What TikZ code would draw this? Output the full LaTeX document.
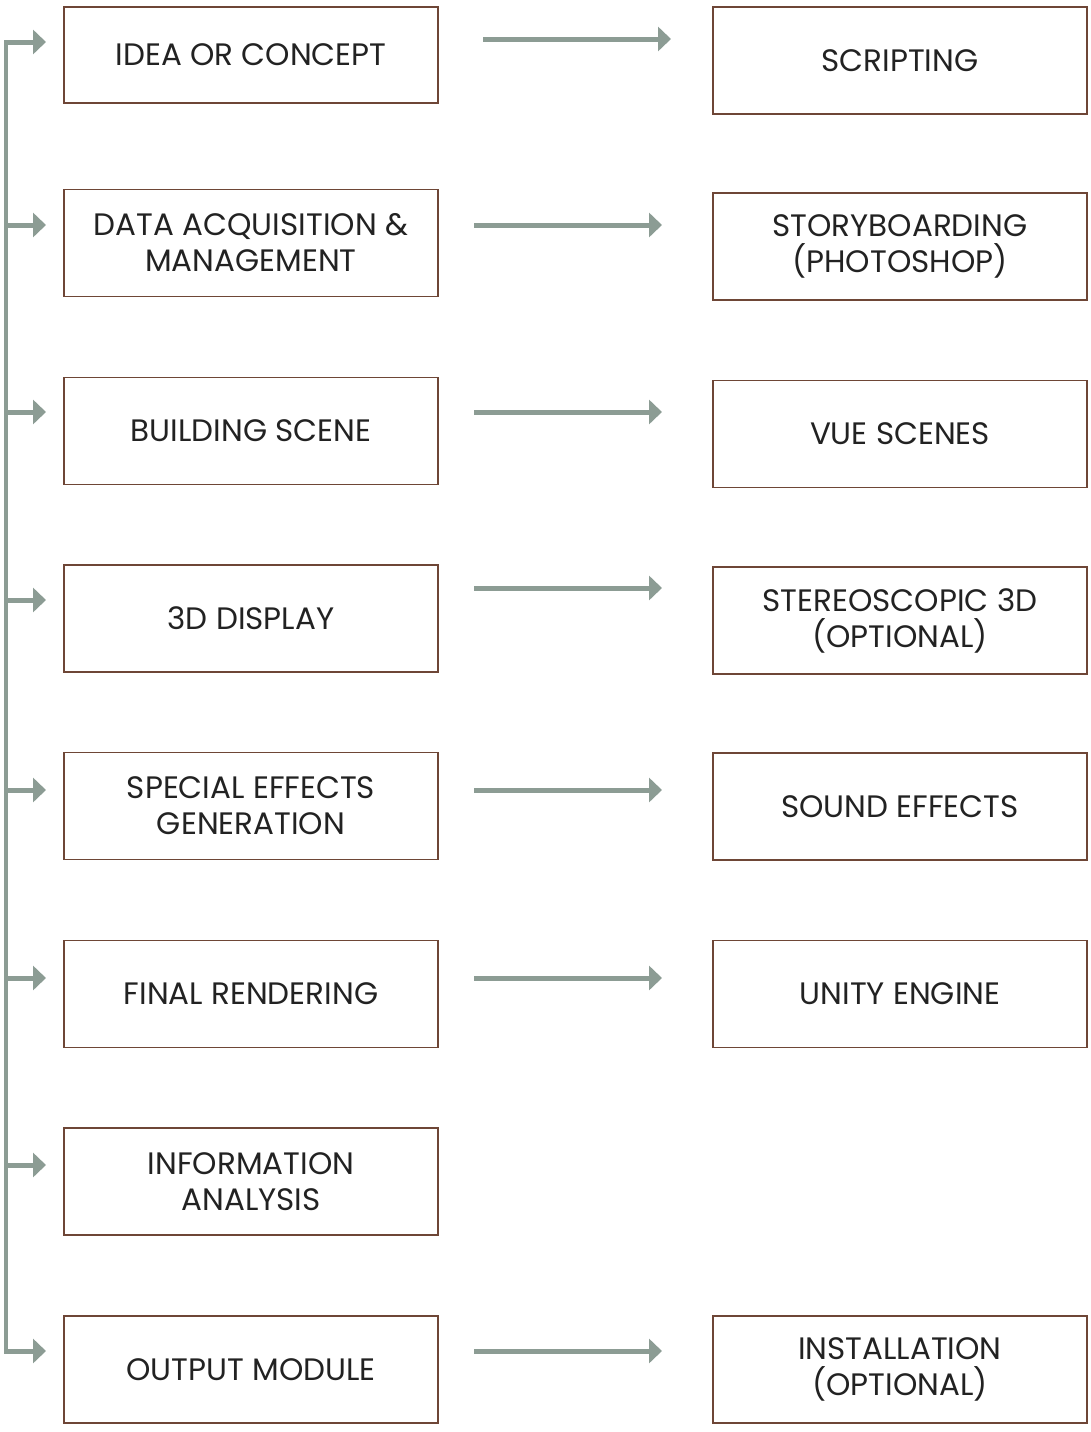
\documentclass[tikz,border=0pt]{standalone}
\usepackage{fontspec}
\setmainfont{Poppins}
\usepackage{tikz}
\definecolor{boxline}{HTML}{6E4636}
\definecolor{arrowgray}{HTML}{8C9C94}
\definecolor{textgray}{HTML}{222222}
\tikzset{
  stagebox/.style={draw=boxline,line width=1.5pt,minimum width=374pt,minimum height=107pt,
    inner sep=0pt,align=center,text=textgray,font=\fontsize{31}{36}\selectfont},
  flowarrow/.style={draw=arrowgray,line width=5pt,-{Triangle[length=13pt,width=24pt]}},
  spine/.style={draw=arrowgray,line width=4pt}
}
\usetikzlibrary{arrows.meta}
\begin{document}
\begin{tikzpicture}[x=1pt,y=-1pt]
\useasboundingbox[fill=white] (0,0) rectangle (1091,1432);
% left column
\node[stagebox,minimum height=96pt] (idea) at (251,55) {IDEA OR CONCEPT};
\node[stagebox] (data) at (251,243) {DATA ACQUISITION \&\\MANAGEMENT};
\node[stagebox] (build) at (251,431) {BUILDING SCENE};
\node[stagebox] (disp) at (251,618.5) {3D DISPLAY};
\node[stagebox] (sfx) at (251,806) {SPECIAL EFFECTS\\GENERATION};
\node[stagebox] (render) at (251,994) {FINAL RENDERING};
\node[stagebox] (info) at (251,1181.5) {INFORMATION\\ANALYSIS};
\node[stagebox] (output) at (251,1369.5) {OUTPUT MODULE};
% right column
\node[stagebox] (script) at (900,60.5) {SCRIPTING};
\node[stagebox] (story) at (900,246.5) {STORYBOARDING\\(PHOTOSHOP)};
\node[stagebox] (vue) at (900,434) {VUE SCENES};
\node[stagebox] (stereo) at (900,620.5) {STEREOSCOPIC 3D\\(OPTIONAL)};
\node[stagebox] (sound) at (900,806.5) {SOUND EFFECTS};
\node[stagebox] (unity) at (900,994) {UNITY ENGINE};
\node[stagebox] (install) at (900,1369.5) {INSTALLATION\\(OPTIONAL)};
% spine on the left
\coordinate (top) at (6,42);
\coordinate (bot) at (6,1351);
\draw[spine] ([yshift=-2pt]top) -- ([yshift=2pt]bot);
\foreach \y in {42,225,412,600,790,978,1165,1351}
  \draw[flowarrow] (4,\y) -- (46,\y);
% arrows between the columns
\coordinate (a1) at (483,39); \coordinate (b1) at (671,39);
\draw[flowarrow] (a1) -- (b1);
\foreach \y/\n in {225/2,412/3,588/4,790/5,978/6,1351/8}{
  \coordinate (a\n) at (474,\y); \coordinate (b\n) at (662,\y);
  \draw[flowarrow] (a\n) -- (b\n);
}
\end{tikzpicture}
\end{document}
